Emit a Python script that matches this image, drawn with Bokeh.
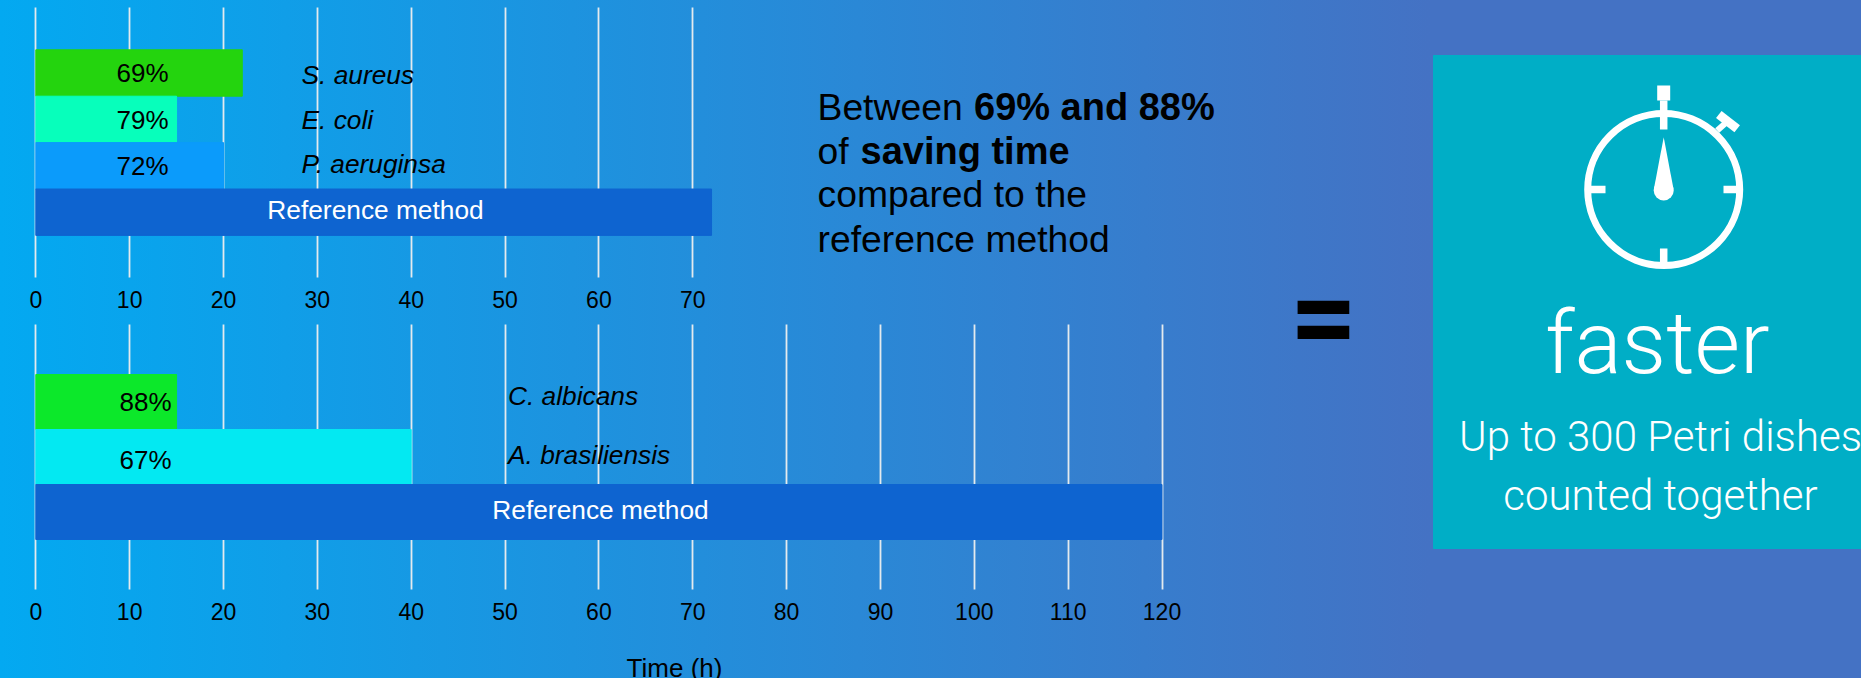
from bokeh.plotting import figure
from bokeh.embed import file_html
from bokeh.resources import INLINE
from bokeh.core.properties import value
from bokeh.models import LinearAxis, FixedTicker, Range1d

# ---- data ----
top_species = ["S. aureus", "E. coli", "P. aeruginsa"]
top_percent = ["69%", "79%", "72%"]
top_hours = [22, 15, 20]
top_reference = 72
top_colors = ["#24d40e", "#07ffbb", "#0b9bfb"]
top_ticks = [0, 10, 20, 30, 40, 50, 60, 70]

bottom_species = ["C. albicans", "A. brasiliensis"]
bottom_percent = ["88%", "67%"]
bottom_hours = [15, 40]
bottom_reference = 120
bottom_colors = ["#0ce82a", "#03e9f2"]
bottom_ticks = [0, 10, 20, 30, 40, 50, 60, 70, 80, 90, 100, 110, 120]

reference_label = "Reference method"
reference_color = "#0e64d0"
axis_title = "Time (h)"

# ---- layout constants (pixel frame) ----
W, H = 1861, 678
X0, PPH = 35.3, 9.385
FONT = value("Liberation Sans")
LIGHT = value("Roboto Light")
INK = "#000000"

p = figure(width=W, height=H, x_range=Range1d(0, W), y_range=Range1d(H, 0),
           x_axis_location=None, y_axis_location=None, toolbar_location=None,
           output_backend="svg", min_border=0, outline_line_color=None,
           background_fill_alpha=0, border_fill_alpha=0)
p.grid.visible = False
p.styles = {"position": "fixed", "left": "0", "top": "0",
            "background": "linear-gradient(90deg,#03a9f1 0px,#4472c4 1430px)"}

p.extra_x_ranges["hours"] = Range1d(-X0 / PPH, (W - X0) / PPH)
# row scales: top chart rows 46.4 px apart from 72.5; bottom rows 55 px apart from 401.5
p.extra_y_ranges["top"] = Range1d((H - 72.5) / 46.4, -72.5 / 46.4)
p.extra_y_ranges["bottom"] = Range1d((H - 401.5) / 55.0, -401.5 / 55.0)


def make_axis(ticks, loc, length):
    ax = LinearAxis(x_range_name="hours", fixed_location=loc,
                    ticker=FixedTicker(ticks=ticks), axis_line_color=None,
                    major_tick_in=length, major_tick_out=0, minor_tick_line_color=None,
                    major_tick_line_color="#e4eaee", major_tick_line_width=1.8,
                    major_label_text_font="Liberation Sans", major_label_text_font_size="23px",
                    major_label_text_color=INK, major_label_standoff=13, level="underlay")
    p.add_layout(ax, "below")


make_axis(top_ticks, 277, 270)
make_axis(bottom_ticks, 589, 265)

# bars
top_vals = top_hours + [top_reference]
top_cols = top_colors + [reference_color]
p.hbar(y=list(range(4)), left=0, right=top_vals, height=1.0, color=top_cols,
       x_range_name="hours", y_range_name="top")
bot_vals = bottom_hours + [bottom_reference]
bot_cols = bottom_colors + [reference_color]
p.hbar(y=list(range(3)), left=0, right=bot_vals, height=1.0, color=bot_cols,
       x_range_name="hours", y_range_name="bottom")

# value labels and species labels
p.text(x=[142, 142, 142], y=[72.5, 119.5, 165.5], text=top_percent, text_font=FONT,
       text_font_size="26px", text_color=INK, text_align="center", text_baseline="middle")
p.text(x=[301, 301, 301], y=[74, 119, 163], text=top_species, text_font=FONT,
       text_font_style="italic", text_font_size="26.3px", text_color=INK, text_baseline="middle")
p.text(x=[145, 145], y=[401.5, 459.5], text=bottom_percent, text_font=FONT,
       text_font_size="26px", text_color=INK, text_align="center", text_baseline="middle")
p.text(x=[507.5, 507.5], y=[395, 454], text=bottom_species, text_font=FONT,
       text_font_style="italic", text_font_size="26.3px", text_color=INK, text_baseline="middle")
p.text(x=[375, 600], y=[209.5, 509.5], text=[reference_label, reference_label], text_font=FONT,
       text_font_size="26.3px", text_color="#ffffff", text_align="center", text_baseline="middle")
p.text(x=[674], y=[667], text=[axis_title], text_font=FONT, text_font_size="26px",
       text_color=INK, text_align="center", text_baseline="middle")

# paragraph
p.text(x=[817, 817, 817, 817], y=[106, 150, 193.5, 238],
       text=["Between", "of", "compared to the", "reference method"],
       text_font=FONT, text_font_size="37.3px", text_color=INK, text_baseline="alphabetic")
p.text(x=[973.5, 860], y=[106, 150], text=["69% and 88%", "saving time"], text_font=FONT,
       text_font_style="bold", text_font_size="38px", text_color=INK, text_baseline="alphabetic")

# equals sign
p.text(x=[1323], y=[317], text=["="], text_font=value("Roboto"), text_font_style="bold",
       text_font_size="118px", text_color=INK, text_align="center", text_baseline="middle")

# right panel
p.quad(left=[1433], right=[W], top=[55], bottom=[548], color="#00aec6")
ICON = "#ffffff"
p.circle(x=[1663.2], y=[189], radius=76, fill_alpha=0, line_color=ICON, line_width=7)
p.multi_line(xs=[[1590, 1605], [1723, 1738], [1663.2, 1663.2], [1663.2, 1663.2]],
             ys=[[189, 189], [189, 189], [100, 129], [248, 263]],
             line_color=ICON, line_width=7.5)
p.multi_line(xs=[[1663.2, 1663.2], [1716.7, 1728], [1718.3, 1736.7]],
             ys=[[85, 100], [130, 120], [114, 128.3]],
             line_color=ICON, line_width=[13, 6, 9])
p.patch(x=[1663.2, 1653.3, 1673.1], y=[136.7, 189, 189], color=ICON, line_width=0)
p.circle(x=[1663.2], y=[190], radius=10, color=ICON, line_width=0)
p.text(x=[1657], y=[342], text=["faster"], text_font=LIGHT, text_font_size="88px",
       text_color=ICON, text_align="center", text_baseline="alphabetic")
p.text(x=[1660, 1660], y=[436, 495], text=["Up to 300 Petri dishes", "counted together"],
       text_font=LIGHT, text_font_size="42px", text_color=ICON, text_align="center",
       text_baseline="alphabetic")

open("out.html", "w").write(file_html(p, INLINE))
